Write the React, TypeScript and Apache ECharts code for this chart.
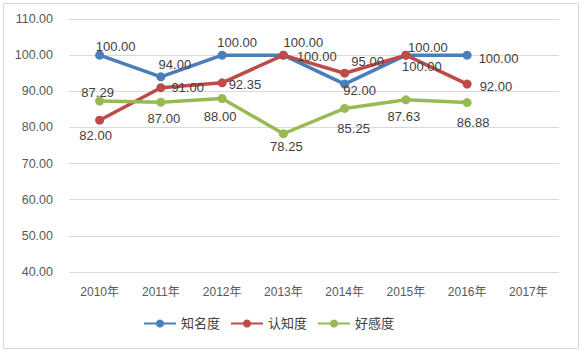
import React, { useEffect, useRef } from "react";
import * as echarts from "echarts";

const categories = ["2010年", "2011年", "2012年", "2013年", "2014年", "2015年", "2016年", "2017年"];
const seriesNames = ["知名度", "认知度", "好感度"];
const awareness = [100, 94, 100, 100, 92, 100, 100, null];
const recognition = [82, 91, 92.35, 100, 95, 100, 92, null];
const favor = [87.29, 87, 88, 78.25, 85.25, 87.63, 86.88, null];
const yTicks = { min: 40, max: 110, interval: 10 };

// label placement per point: [position, dx, dy]
const awarenessLabelPos: [string, number, number][] = [
  ["top", 16, 7], ["top", 14, 4], ["top", 15, 3], ["top", 20, 3], ["bottom", 15, -10], ["top", 22, 8], ["right", 2, 3],
];
const recognitionLabelPos: [string, number, number][] = [
  ["bottom", -4, -1], ["right", 1, 0], ["right", -3, 2], ["right", 4, 1], ["top", 23, 4], ["bottom", 16, -5], ["right", 3, 2],
];
const favorLabelPos: [string, number, number][] = [
  ["top", -2, 7], ["bottom", 3, 0], ["bottom", -2, 2], ["bottom", 3, -3], ["bottom", 9, 4], ["bottom", -2, 1], ["bottom", 6, 4],
];

const colors = ["#4A7EBB", "#BE4B48", "#98B954"];
const FONT = "'Liberation Sans', 'Noto Sans CJK SC', sans-serif";

function buildData(values: (number | null)[], pos: [string, number, number][]) {
  return values.map((v, i) => {
    if (v === null) return null;
    const p = pos[i];
    return {
      value: v,
      label: { position: p[0], offset: [p[1], p[2]] },
    };
  });
}

export default function App() {
  const ref = useRef<HTMLDivElement>(null);
  useEffect(() => {
    if (!ref.current) return;
    const chart = echarts.init(ref.current, undefined, { renderer: "svg" });
    const mk = (name: string, values: (number | null)[], pos: [string, number, number][], color: string) => ({
      name,
      type: "line",
      data: buildData(values, pos),
      symbol: "circle",
      symbolSize: 9,
      lineStyle: { width: 3.5, color },
      itemStyle: { color },
      connectNulls: false,
      label: {
        show: true,
        formatter: (p: any) => Number(p.value).toFixed(2),
        fontSize: 13,
        color: "#404040",
        fontFamily: FONT,
        distance: 5,
      },
    });
    chart.setOption({
      animation: false,
      backgroundColor: "#ffffff",
      color: colors,
      graphic: [
        {
          type: "rect",
          shape: { x: 3.5, y: 3.5, width: 575, height: 345 },
          style: { fill: "none", stroke: "#D9D9D9", lineWidth: 1 },
          silent: true,
        },
      ],
      grid: { left: 69, right: 23, top: 19, bottom: 80, containLabel: false },
      legend: {
        data: seriesNames,
        bottom: 17,
        left: 138,
        itemWidth: 32,
        itemHeight: 10,
        itemGap: 10,
        textStyle: { fontSize: 13, color: "#404040", fontFamily: FONT },
      },
      xAxis: {
        type: "category",
        data: categories,
        boundaryGap: true,
        axisLine: { show: false },
        axisTick: { show: false },
        axisLabel: { fontSize: 12, color: "#595959", fontFamily: FONT, margin: 14 },
      },
      yAxis: {
        type: "value",
        min: yTicks.min,
        max: yTicks.max,
        interval: yTicks.interval,
        axisLine: { show: false },
        axisTick: { show: false },
        splitLine: { lineStyle: { color: "#D9D9D9", width: 1 } },
        axisLabel: {
          fontSize: 12.5,
          color: "#595959",
          fontFamily: FONT,
          margin: 16,
          formatter: (v: number) => v.toFixed(2),
        },
      },
      series: [
        mk(seriesNames[0], awareness, awarenessLabelPos, colors[0]),
        mk(seriesNames[1], recognition, recognitionLabelPos, colors[1]),
        mk(seriesNames[2], favor, favorLabelPos, colors[2]),
      ],
    });
    return () => chart.dispose();
  }, []);
  return (
    <div
      ref={ref}
      style={{ position: "fixed", left: 0, top: 0, width: 582, height: 352 }}
    />
  );
}
